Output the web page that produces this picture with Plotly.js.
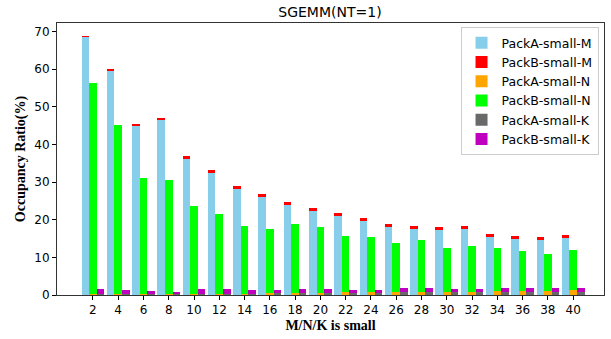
<!DOCTYPE html>
<html>
<head>
<meta charset="utf-8">
<script src="https://cdn.plot.ly/plotly-3.0.1.min.js"></script>
<style>html,body{margin:0;padding:0;background:#fff;}#chart{width:611px;height:339px;}</style>
</head>
<body>
<div id="chart"></div>
<script>
var categories = ["2","4","6","8","10","12","14","16","18","20","22","24","26","28","30","32","34","36","38","40"];
var packA_M = [68.5,59.5,44.9,46.5,36.1,32.4,28.1,26.0,23.9,22.3,20.9,19.6,18.0,17.5,17.2,17.5,15.4,14.8,14.6,15.1];
var packB_M = [0.4,0.5,0.5,0.5,0.8,0.8,0.8,0.8,0.8,0.8,0.8,0.8,0.8,0.8,0.8,0.8,0.8,0.8,0.8,0.8];
var packA_N = [0.2,0.2,0.2,0.3,0.2,0.2,0.2,0.5,0.5,0.5,0.8,0.8,0.8,0.8,0.8,0.8,1.1,1.1,1.1,1.3];
var packB_N = [56.1,45.0,30.9,30.2,23.4,21.3,18.1,17.0,18.3,17.5,14.8,14.6,13.0,13.8,11.6,12.2,11.3,10.5,9.7,10.6];
var packA_K = [0.3,0.3,0.3,0.3,0.3,0.3,0.3,0.5,0.5,0.5,0.5,0.5,0.8,0.8,0.7,0.7,0.7,0.7,0.7,0.7];
var packB_K = [1.2,0.95,0.7,0.4,1.2,1.2,0.95,0.75,1.0,1.0,0.75,0.75,1.0,1.0,0.8,0.8,1.1,1.1,1.1,1.1];

var xs = categories.map(function(c, i){ return i; });
var W = 0.3;
function bar(name, y, base, offset, color){
  var t = {type:'bar', name:name, x:xs, y:y, width:W, offset:offset,
           marker:{color:color, line:{width:0}}, hoverinfo:'name+y'};
  if (base) t.base = base;
  return t;
}
var data = [
  bar('PackA-small-M', packA_M, null, -0.45, '#87CEEB'),
  bar('PackB-small-M', packB_M, packA_M, -0.45, '#FF0000'),
  bar('PackA-small-N', packA_N, null, -0.15, '#FFA500'),
  bar('PackB-small-N', packB_N, packA_N, -0.15, '#00FF00'),
  bar('PackA-small-K', packA_K, null, 0.15, '#696969'),
  bar('PackB-small-K', packB_K, packA_K, 0.15, '#BF00BF')
];
var layout = {
  width:611, height:339,
  margin:{l:57, r:7, t:23, b:44},
  paper_bgcolor:'#fff', plot_bgcolor:'#fff',
  barmode:'overlay',
  bargap:0,
  font:{family:'DejaVu Sans', size:12, color:'#000'},
  title:{text:'SGEMM(NT=1)', font:{family:'DejaVu Sans', size:14, color:'#000'}, x:0.54, xanchor:'center', y:0.965, yanchor:'middle'},
  xaxis:{
    range:[-1.42, 20.22],
    tickmode:'array', tickvals:xs, ticktext:categories,
    ticks:'outside', ticklen:4, tickwidth:1, tickcolor:'#000',
    showline:true, mirror:true, linecolor:'#333', linewidth:1,
    showgrid:false, zeroline:false,
    tickfont:{family:'DejaVu Sans', size:12, color:'#000'},
    title:{text:'M/N/K is small', font:{family:'Liberation Serif', size:14, color:'#000', weight:'bold'}, standoff:3}
  },
  yaxis:{
    range:[0, 72.3],
    tickmode:'array', tickvals:[0,10,20,30,40,50,60,70],
    ticks:'outside', ticklen:4, tickwidth:1, tickcolor:'#000',
    showline:true, mirror:true, linecolor:'#333', linewidth:1,
    showgrid:false, zeroline:false,
    tickfont:{family:'DejaVu Sans', size:12, color:'#000'},
    title:{text:'Occupancy Ratio(%)', font:{family:'Liberation Serif', size:14, color:'#000', weight:'bold'}, standoff:5}
  },
  legend:{
    x:0.99, xanchor:'right', y:0.985, yanchor:'top',
    bgcolor:'rgba(255,255,255,0.8)', bordercolor:'#ccc', borderwidth:1,
    font:{family:'DejaVu Sans', size:12.5, color:'#000'},
    traceorder:'normal'
  },
  showlegend:true
};
Plotly.newPlot('chart', data, layout, {staticPlot:true, displayModeBar:false});
</script>
</body>
</html>
